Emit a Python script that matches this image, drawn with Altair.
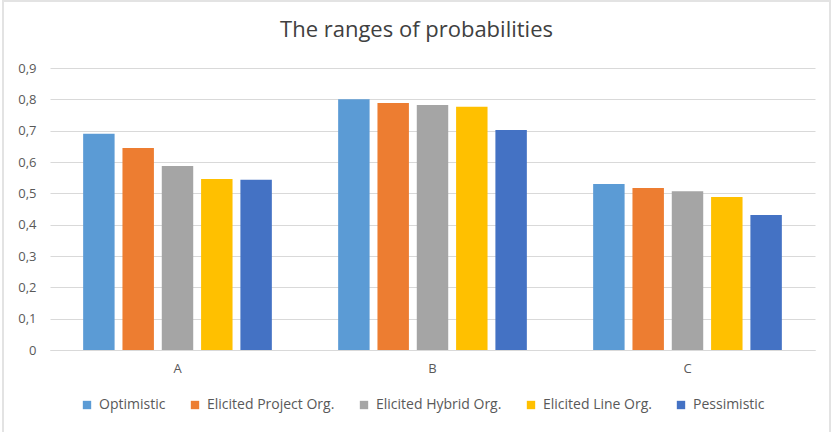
import altair as alt
import pandas as pd

categories = ["A", "B", "C"]
series = ["Optimistic", "Elicited Project Org.", "Elicited Hybrid Org.", "Elicited Line Org.", "Pessimistic"]
optimistic = [0.69, 0.80, 0.53]
elicited_project = [0.645, 0.788, 0.517]
elicited_hybrid = [0.587, 0.782, 0.507]
elicited_line = [0.546, 0.776, 0.488]
pessimistic = [0.543, 0.702, 0.431]
colors = ["#5B9BD5", "#ED7D31", "#A5A5A5", "#FFC000", "#4472C4"]

rows = []
for s, vals in zip(series, [optimistic, elicited_project, elicited_hybrid, elicited_line, pessimistic]):
    for c, v in zip(categories, vals):
        rows.append({"cat": c, "series": s, "value": v})
df = pd.DataFrame(rows)

font = "Open Sans"

bars = alt.Chart(df).mark_bar().encode(
    x=alt.X("cat:N", sort=categories, title=None,
            scale=alt.Scale(paddingInner=0.26, paddingOuter=0.13),
            axis=alt.Axis(labelAngle=0, labelFontSize=13, labelColor="#595959", labelFont=font,
                          domainColor="#D9D9D9", ticks=False, labelPadding=12, grid=False)),
    xOffset=alt.XOffset("series:N", sort=series, scale=alt.Scale(paddingInner=0.2, paddingOuter=0)),
    y=alt.Y("value:Q", title=None,
            scale=alt.Scale(domain=[0, 0.9], nice=False),
            axis=alt.Axis(values=[0, 0.1, 0.2, 0.3, 0.4, 0.5, 0.6, 0.7, 0.8, 0.9],
                          labelExpr="datum.value == 0 ? '0' : replace(format(datum.value, '.1f'), '.', ',')",
                          labelFontSize=13, labelColor="#595959", labelFont=font,
                          domain=False, ticks=False, labelPadding=14,
                          gridColor="#D9D9D9")),
    color=alt.Color("series:N", sort=series,
                    scale=alt.Scale(domain=series, range=colors),
                    legend=alt.Legend(orient="none", legendX=30, legendY=330,
                                      direction="horizontal", title=None,
                                      symbolType="square", symbolSize=70, symbolStrokeWidth=0,
                                      labelFontSize=14, labelColor="#595959", labelFont=font,
                                      columnPadding=22, labelOffset=5)),
)

border = alt.Chart(pd.DataFrame({"k": [0]})).mark_rect(
    fill=None, stroke="#E3E3E3", strokeWidth=2
).encode(
    x=alt.value(-47), x2=alt.value(780), y=alt.value(-67), y2=alt.value(380)
)

chart = alt.layer(bars, border).properties(
    width=765, height=282,
    title=alt.TitleParams("The ranges of probabilities", fontSize=22, font=font, fontWeight="normal",
                          color="#404040", anchor="middle", offset=-42, dx=-16),
    autosize=alt.AutoSizeParams(type="none"),
    padding={"left": 50, "top": 68, "right": 18, "bottom": 82},
).configure(background="white").configure_view(stroke=None)

chart.save("out.html", embed_options={"renderer": "svg", "actions": False})
